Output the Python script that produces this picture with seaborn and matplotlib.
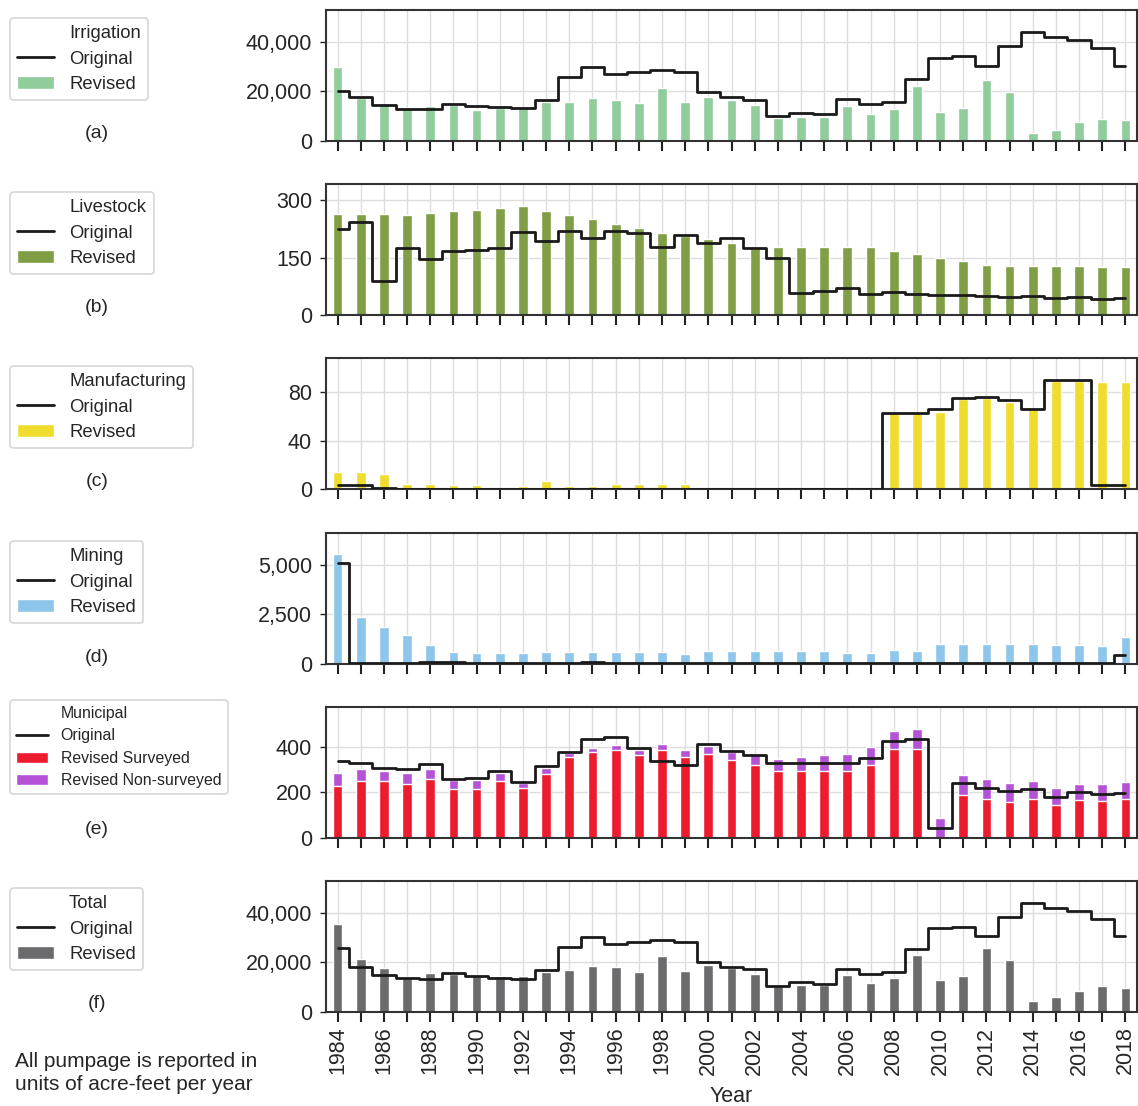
import numpy as np
import pandas as pd
import matplotlib
matplotlib.use("Agg")
import matplotlib.pyplot as plt
import seaborn as sns
import matplotlib.ticker as ticker
from matplotlib.patches import Patch
from matplotlib.lines import Line2D

years = list(range(1984, 2019))

irr_rev = [29700, 17300, 14400, 13300, 14300, 14400, 12700, 13300, 13300, 15700,
           15900, 17300, 16500, 15200, 21500, 15600, 17600, 16500, 14400, 9200,
           9700, 9700, 14000, 10800, 12800, 22000, 11900, 13300, 24400, 19600,
           3300, 4500, 7500, 8900, 8300]
irr_orig = [20000, 17900, 14500, 13100, 12800, 14900, 14300, 13700, 13200, 16400,
            25700, 29600, 26800, 27600, 28500, 27900, 19700, 17800, 16700, 10300,
            11300, 11100, 16900, 14800, 15600, 25100, 33600, 34300, 30300, 38300,
            43900, 41700, 40700, 37600, 30300]

liv_rev = [264, 262, 262, 261, 266, 270, 274, 279, 284, 272,
           261, 249, 238, 226, 215, 206, 198, 188, 174, 178,
           178, 178, 178, 178, 168, 160, 150, 140, 132, 129,
           129, 127, 127, 126, 126]
liv_orig = [225, 242, 89, 174, 147, 167, 170, 176, 216, 194,
            218, 202, 220, 215, 178, 209, 188, 200, 175, 150,
            58, 64, 70, 55, 61, 56, 54, 54, 50, 48,
            51, 45, 47, 42, 44]

man_rev = [14.5, 14, 12.3, 4.1, 4.1, 3.6, 3.6, 0, 3, 7.1,
           2.5, 3, 4.1, 4.1, 4.7, 4.7, 0, 0, 0, 0.3,
           0.3, 0.3, 0.3, 0, 62.7, 62.7, 63.6, 74, 75, 71.8,
           65.8, 89, 89, 88.5, 88.5]
man_orig = [3.5, 3.5, 1, 0, 0, 0, 0, 0, 0, 0,
            0, 0, 0, 0, 0, 0, 0, 0, 0, 0,
            0, 0, 0, 0, 62.7, 62.7, 65.8, 74.8, 76, 73,
            66.3, 89.6, 89.6, 3.6, 3.6]

min_rev = [5550, 2380, 1880, 1440, 940, 600, 565, 565, 565, 600,
           600, 600, 600, 600, 600, 500, 630, 630, 630, 630,
           630, 630, 530, 530, 670, 630, 980, 980, 980, 980,
           980, 940, 940, 910, 1370]
min_orig = [5120, 50, 50, 50, 80, 60, 50, 50, 50, 50,
            50, 60, 50, 50, 50, 50, 50, 50, 50, 50,
            50, 50, 50, 50, 50, 50, 50, 50, 50, 50,
            50, 50, 50, 50, 460]

mun_surveyed = [228, 248, 248, 235, 257, 215, 215, 251, 218, 279,
                353, 375, 384, 362, 385, 353, 368, 340, 321, 291,
                291, 291, 291, 318, 388, 388, 0, 188, 172, 159,
                172, 145, 164, 161, 169]
mun_total = [283, 301, 295, 282, 301, 253, 253, 286, 241, 307,
             372, 394, 406, 385, 410, 383, 403, 374, 368, 345,
             355, 361, 366, 396, 469, 479, 88, 276, 256, 240,
             248, 218, 238, 234, 244]
mun_orig = [337, 327, 308, 302, 323, 257, 261, 293, 244, 314,
            378, 432, 444, 394, 337, 318, 413, 381, 364, 327,
            327, 327, 330, 352, 426, 432, 45, 241, 220, 204,
            213, 181, 201, 190, 197]

tot_rev = [35600, 21300, 17800, 14200, 15900, 15500, 14600, 14600, 14600, 16300,
           16900, 18600, 18000, 16300, 22500, 16600, 18800, 17800, 15200, 10300,
           11000, 11000, 14900, 11500, 13900, 23000, 12900, 14600, 25700, 20900,
           4600, 5900, 8500, 10300, 9800]
tot_orig = [25700, 18200, 15000, 13900, 13400, 15900, 14500, 13900, 13500, 16900,
            26100, 30200, 27300, 28300, 29200, 28300, 20200, 18200, 17200, 10600,
            12000, 11400, 17200, 15200, 16000, 25600, 33700, 34200, 30500, 38500,
            44100, 41800, 40700, 37500, 30600]

sns.set_style("whitegrid", {"xtick.bottom": True, "ytick.left": True,
                            "axes.edgecolor": "#333333", "grid.color": "#dddddd"})
plt.rcParams["font.family"] = ["Liberation Sans", "DejaVu Sans"]
plt.rcParams["font.size"] = 13

panels = [
    ("Irrigation", irr_rev, irr_orig, "#90cc9c", [0, 20000, 40000], True, "(a)"),
    ("Livestock", liv_rev, liv_orig, "#7f9e45", [0, 150, 300], False, "(b)"),
    ("Manufacturing", man_rev, man_orig, "#f0dc2c", [0, 40, 80], False, "(c)"),
    ("Mining", min_rev, min_orig, "#8ec5ea", [0, 2500, 5000], True, "(d)"),
    ("Municipal", mun_total, mun_orig, "#b553d6", [0, 200, 400], False, "(e)"),
    ("Total", tot_rev, tot_orig, "#6b6b6e", [0, 20000, 40000], True, "(f)"),
]
red = "#ec1b2e"

W, H = 1138, 1106
fig, axes = plt.subplots(6, 1, figsize=(W / 100, H / 100), dpi=100)
plt.subplots_adjust(left=326 / W, right=1137 / W, top=1 - 10 / H,
                    bottom=1 - 1012 / H, hspace=0.328)

for i, (name, rev, orig, col, yt, comma, tag) in enumerate(panels):
    ax = axes[i]
    df = pd.DataFrame({"Year": years, "Revised": rev, "Original": orig})
    sns.barplot(data=df, x="Year", y="Revised", color=col, width=0.42,
                native_scale=True, errorbar=None, saturation=1, ax=ax, zorder=2)
    if name == "Municipal":
        dfs = pd.DataFrame({"Year": years, "Surveyed": mun_surveyed})
        sns.barplot(data=dfs, x="Year", y="Surveyed", color=red, width=0.42,
                    native_scale=True, errorbar=None, saturation=1, ax=ax, zorder=2)
    sns.lineplot(data=df, x="Year", y="Original", color="#1a1a1a", lw=2,
                 drawstyle="steps-mid", ax=ax, zorder=3)

    top = max(max(rev), max(orig)) * 1.2
    ax.set_ylim(0, top)
    ax.set_xlim(1983.5, 2018.5)
    ax.set_yticks(yt)
    if comma:
        ax.yaxis.set_major_formatter(ticker.StrMethodFormatter("{x:,.0f}"))
    ax.set_xticks(years)
    ax.grid(True, axis="both", color="#dddddd", lw=1)
    ax.set_axisbelow(True)
    for s in ax.spines.values():
        s.set_color("#333333")
        s.set_linewidth(1.5)
    ax.tick_params(axis="x", length=7, width=1.5, color="#222222", labelsize=15.5)
    ax.tick_params(axis="y", length=4, width=1, color="#222222", labelsize=15.5, pad=6)
    ax.set_ylabel("")
    if i < 5:
        ax.set_xticklabels([""] * len(years))
        ax.set_xlabel("")
    else:
        ax.set_xticklabels([str(y) if y % 2 == 0 else "" for y in years], rotation=90)
        ax.set_xlabel("Year", fontsize=15.5, labelpad=8)

    # legend at the left with the category name as a handle-less first entry
    blank = Line2D([], [], color="none")
    orig_h = Line2D([], [], color="#1a1a1a", lw=2)
    if name == "Municipal":
        handles = [blank, orig_h, Patch(facecolor=red), Patch(facecolor=col)]
        labels = [name, "Original", "Revised Surveyed", "Revised Non-surveyed"]
        fs = 11.4
    else:
        handles = [blank, orig_h, Patch(facecolor=col)]
        labels = [name, "Original", "Revised"]
        fs = 13.3
    box_top = {0: 18, 1: 192, 2: 366, 3: 541, 4: 700, 5: 888}[i]
    leg = ax.legend(handles, labels, loc="upper left", fontsize=fs,
                    bbox_to_anchor=(10 / W, 1 - box_top / H),
                    bbox_transform=fig.transFigure, borderaxespad=0,
                    frameon=True, fancybox=True, handlelength=2.0,
                    labelspacing=0.45)
    leg.get_frame().set_edgecolor("#cccccc")
    leg.get_frame().set_linewidth(1.2)

    lab_y = {0: 133, 1: 307, 2: 482, 3: 657, 4: 830, 5: 1004}[i]
    fig.text(97 / W, 1 - lab_y / H, tag, ha="center", va="center", fontsize=14)

fig.text(15 / W, 1 - 1073 / H, "All pumpage is reported in\nunits of acre-feet per year",
         ha="left", va="center", fontsize=15, linespacing=1.25)

fig.savefig("out.png", dpi=100)
